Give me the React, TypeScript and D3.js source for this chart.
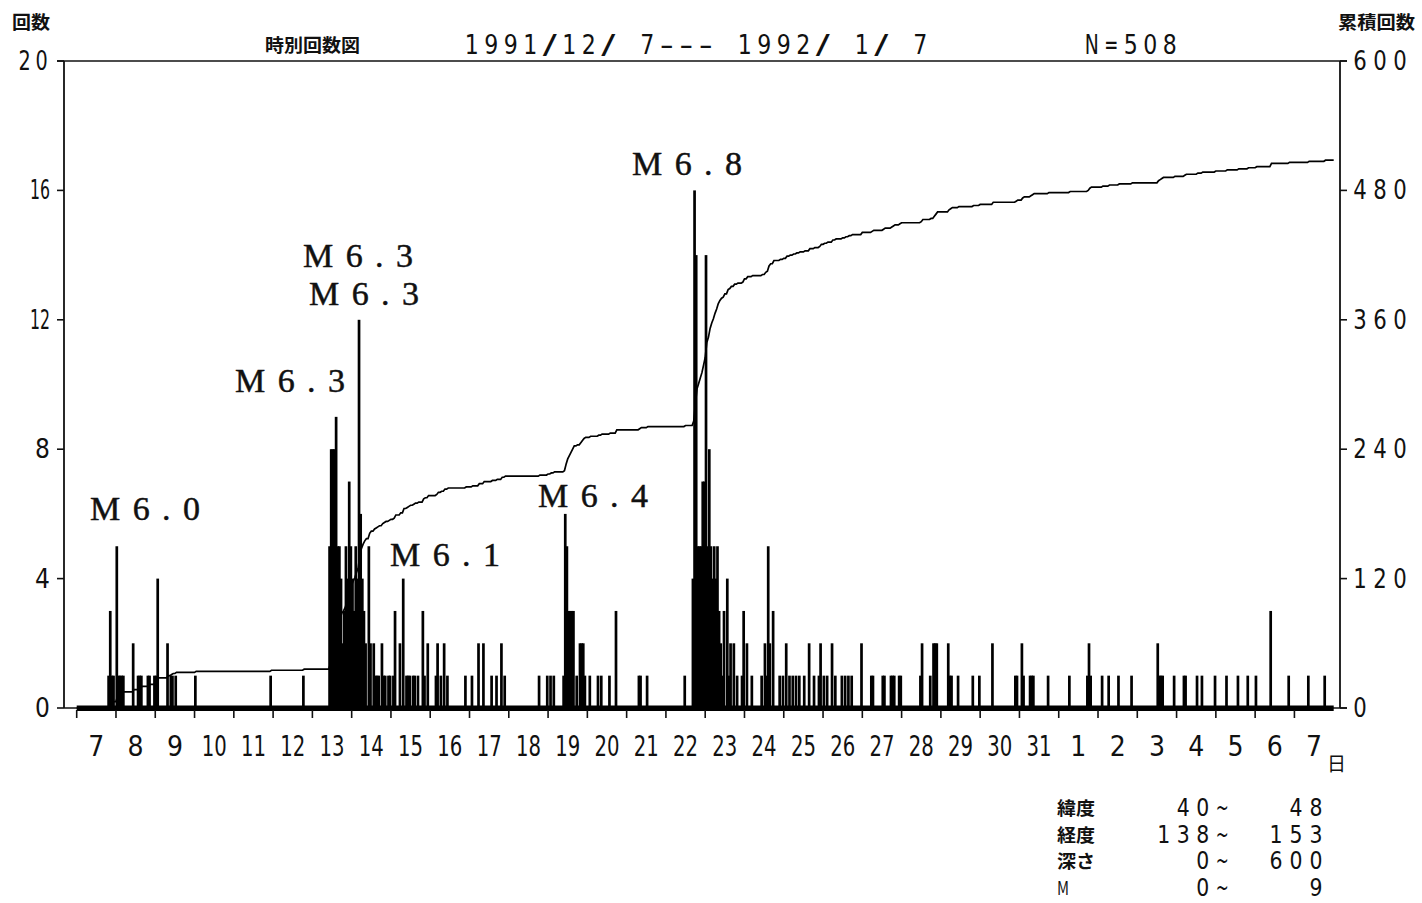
import React, { useEffect, useRef } from "react";
import * as d3 from "d3";

// x axis: one label per day, 1991/12/7 .. 1992/1/7
const dayLabels = [
  "7", "8", "9", "10", "11", "12", "13", "14", "15", "16", "17", "18", "19", "20",
  "21", "22", "23", "24", "25", "26", "27", "28", "29", "30", "31",
  "1", "2", "3", "4", "5", "6", "7",
];
const countTicks = [0, 4, 8, 12, 16, 20];
const cumulTicks = [0, 120, 240, 360, 480, 600];

// magnitude notes on the main shocks
const mainShocks = ["M6.0", "M6.3", "M6.3", "M6.3", "M6.1", "M6.4", "M6.8"];

// search window printed at the bottom right
const rangeNames = ["緯度", "経度", "深さ", "M"];
const rangeFrom = ["40~", "138~", "0~", "0~"];
const rangeTo = ["48", "153", "600", "9"];

// [date, hour, number of quakes in that hour]
const hourlyCounts: [string, number, number][] = [
  ["12/07", 19, 1], ["12/07", 20, 3], ["12/07", 21, 1], ["12/07", 22, 1],
  ["12/08", 0, 5], ["12/08", 1, 1], ["12/08", 2, 1], ["12/08", 3, 1], ["12/08", 4, 1], ["12/08", 10, 2],
  ["12/08", 13, 1], ["12/08", 14, 1], ["12/08", 15, 1], ["12/08", 19, 1], ["12/08", 20, 1], ["12/08", 23, 1],
  ["12/09", 0, 1], ["12/09", 1, 4], ["12/09", 7, 2], ["12/09", 9, 1], ["12/09", 10, 1], ["12/09", 12, 1],
  ["12/10", 0, 1], ["12/11", 22, 1], ["12/12", 18, 1],
  ["12/13", 10, 5], ["12/13", 11, 8], ["12/13", 12, 8], ["12/13", 13, 8], ["12/13", 14, 9], ["12/13", 15, 5],
  ["12/13", 16, 5], ["12/13", 17, 4], ["12/13", 18, 2], ["12/13", 19, 3], ["12/13", 20, 5], ["12/13", 21, 4],
  ["12/13", 22, 7], ["12/13", 23, 5],
  ["12/14", 0, 4], ["12/14", 1, 3], ["12/14", 2, 5], ["12/14", 3, 4], ["12/14", 4, 12], ["12/14", 5, 6],
  ["12/14", 6, 4], ["12/14", 7, 3], ["12/14", 8, 2], ["12/14", 10, 5], ["12/14", 11, 2], ["12/14", 13, 2],
  ["12/14", 14, 1], ["12/14", 15, 1], ["12/14", 16, 1], ["12/14", 18, 2], ["12/14", 19, 1], ["12/14", 20, 1],
  ["12/14", 22, 1], ["12/14", 23, 1],
  ["12/15", 1, 1], ["12/15", 2, 3], ["12/15", 5, 2], ["12/15", 7, 4], ["12/15", 9, 1], ["12/15", 10, 1],
  ["12/15", 11, 1], ["12/15", 13, 1], ["12/15", 14, 1], ["12/15", 16, 1], ["12/15", 19, 3], ["12/15", 20, 1],
  ["12/15", 22, 2],
  ["12/16", 3, 1], ["12/16", 4, 2], ["12/16", 6, 1], ["12/16", 8, 2], ["12/16", 10, 1], ["12/16", 21, 1],
  ["12/17", 1, 1], ["12/17", 5, 2], ["12/17", 8, 2], ["12/17", 13, 1], ["12/17", 16, 1], ["12/17", 19, 2],
  ["12/17", 21, 1],
  ["12/18", 18, 1], ["12/18", 23, 1],
  ["12/19", 1, 1], ["12/19", 3, 1], ["12/19", 9, 1], ["12/19", 10, 6], ["12/19", 11, 5], ["12/19", 12, 3],
  ["12/19", 13, 3], ["12/19", 14, 3], ["12/19", 15, 3], ["12/19", 17, 1], ["12/19", 19, 2], ["12/19", 20, 2],
  ["12/19", 21, 2], ["12/19", 22, 1],
  ["12/20", 1, 1], ["12/20", 6, 1], ["12/20", 8, 1], ["12/20", 13, 1], ["12/20", 17, 3],
  ["12/21", 7, 1], ["12/21", 8, 1], ["12/21", 12, 1],
  ["12/22", 11, 1], ["12/22", 16, 4], ["12/22", 17, 16], ["12/22", 18, 14], ["12/22", 19, 5], ["12/22", 20, 5],
  ["12/22", 21, 5], ["12/22", 22, 7], ["12/22", 23, 7],
  ["12/23", 0, 14], ["12/23", 1, 5], ["12/23", 2, 8], ["12/23", 3, 5], ["12/23", 4, 4], ["12/23", 5, 5],
  ["12/23", 6, 4], ["12/23", 7, 5], ["12/23", 8, 3], ["12/23", 9, 2], ["12/23", 10, 1], ["12/23", 11, 3],
  ["12/23", 13, 4], ["12/23", 14, 1], ["12/23", 15, 2], ["12/23", 17, 2], ["12/23", 19, 1], ["12/23", 22, 1],
  ["12/23", 23, 3],
  ["12/24", 1, 2], ["12/24", 4, 1], ["12/24", 10, 1], ["12/24", 12, 2], ["12/24", 13, 1], ["12/24", 14, 5],
  ["12/24", 15, 2], ["12/24", 17, 3], ["12/24", 21, 1], ["12/24", 23, 1],
  ["12/25", 1, 2], ["12/25", 3, 1], ["12/25", 5, 1], ["12/25", 7, 1], ["12/25", 9, 1], ["12/25", 12, 1],
  ["12/25", 15, 2], ["12/25", 18, 1], ["12/25", 21, 1], ["12/25", 22, 2],
  ["12/26", 0, 1], ["12/26", 2, 1], ["12/26", 5, 2], ["12/26", 7, 1], ["12/26", 11, 1], ["12/26", 13, 1],
  ["12/26", 15, 1], ["12/26", 17, 1], ["12/26", 23, 2],
  ["12/27", 5, 1], ["12/27", 6, 1], ["12/27", 12, 1], ["12/27", 13, 1], ["12/27", 17, 1], ["12/27", 18, 1],
  ["12/27", 19, 1], ["12/27", 22, 1], ["12/27", 23, 1],
  ["12/28", 11, 1], ["12/28", 12, 2], ["12/28", 17, 1], ["12/28", 19, 2], ["12/28", 20, 2], ["12/28", 21, 2],
  ["12/29", 4, 2], ["12/29", 5, 1], ["12/29", 6, 1], ["12/29", 10, 1], ["12/29", 19, 1], ["12/29", 23, 1],
  ["12/30", 7, 2], ["12/30", 21, 1], ["12/30", 22, 1],
  ["12/31", 1, 2], ["12/31", 2, 1], ["12/31", 6, 1], ["12/31", 7, 1], ["12/31", 8, 1], ["12/31", 17, 1],
  ["01/01", 6, 1], ["01/01", 17, 1], ["01/01", 18, 2], ["01/01", 19, 1],
  ["01/02", 2, 1], ["01/02", 6, 1], ["01/02", 12, 1], ["01/02", 20, 1],
  ["01/03", 12, 2], ["01/03", 13, 1], ["01/03", 14, 1], ["01/03", 15, 1], ["01/03", 22, 1],
  ["01/04", 4, 1], ["01/04", 5, 1], ["01/04", 12, 1], ["01/04", 15, 1], ["01/04", 23, 1],
  ["01/05", 6, 1], ["01/05", 13, 1], ["01/05", 19, 1],
  ["01/06", 0, 1], ["01/06", 9, 3], ["01/06", 20, 1],
  ["01/07", 8, 1], ["01/07", 18, 1],
];

const W = 1422;
const H = 903;
const NUM_FONT = "'Liberation Sans Narrow', 'DejaVu Sans Condensed', 'Liberation Sans', sans-serif";
const JP_FONT = "'Noto Sans CJK JP', 'Noto Sans CJK SC', sans-serif";
const M_FONT = "'Liberation Serif', 'DejaVu Serif', serif";

function hourIndex(date: string, hour: number) {
  const [m, d] = date.split("/").map(Number);
  const day = m === 12 ? d - 7 : 24 + d;
  return day * 24 + hour;
}

export default function App() {
  const ref = useRef<SVGSVGElement>(null);

  useEffect(() => {
    document.body.style.margin = "0";
    const svg = d3.select(ref.current);
    svg.selectAll("*").remove();
    svg.append("rect").attr("width", W).attr("height", H).attr("fill", "#fff");

    const nHours = dayLabels.length * 24;
    const x = d3.scaleLinear().domain([0, nHours]).range([76.7, 1333.7]);
    const yL = d3.scaleLinear().domain([0, 20]).range([708, 61]);
    const yR = d3.scaleLinear().domain([0, 600]).range([708, 61]);
    const axisL = 64;
    const axisR = 1340;

    const ink = "#111";
    const g = svg.append("g");

    // number text squeezed/stretched to the printed width
    const num = (px: number, py: number, s: string, size: number, width: number, anchor = "start") => {
      const t = g.append("text").attr("x", px).attr("y", py).attr("text-anchor", anchor)
        .attr("font-family", NUM_FONT).attr("font-size", size).attr("fill", ink).text(s);
      if (s.length > 1) t.attr("textLength", width).attr("lengthAdjust", "spacingAndGlyphs");
      return t;
    };
    // plotter style: narrow glyphs in fixed-width cells
    const mono = (px: number, py: number, s: string, size: number, cell: number, anchor = "start") => {
      const total = s.length * cell;
      const x0 = anchor === "end" ? px - total : px;
      s.split("").forEach((ch, i) => {
        if (ch === " ") return;
        g.append("text").attr("x", x0 + (i + 0.5) * cell).attr("y", py).attr("text-anchor", "middle")
          .attr("font-family", NUM_FONT).attr("font-size", size).attr("fill", ink)
          .attr("textLength", Math.min(cell * 0.72, size * 0.52)).attr("lengthAdjust", "spacingAndGlyphs")
          .text(ch);
      });
    };

    // frame and axes
    g.append("line").attr("x1", 57).attr("x2", axisR + 7).attr("y1", yL(20)).attr("y2", yL(20))
      .attr("stroke", ink).attr("stroke-width", 1.6);
    g.append("line").attr("x1", axisL).attr("x2", axisL).attr("y1", yL(20)).attr("y2", yL(0))
      .attr("stroke", ink).attr("stroke-width", 1.8);
    g.append("line").attr("x1", axisR).attr("x2", axisR).attr("y1", yL(20)).attr("y2", yL(0))
      .attr("stroke", ink).attr("stroke-width", 1.8);
    g.append("line").attr("x1", axisL).attr("x2", axisR + 7).attr("y1", yL(0)).attr("y2", yL(0))
      .attr("stroke", ink).attr("stroke-width", 1.6);

    // left ticks / labels
    countTicks.forEach((t) => {
      g.append("line").attr("x1", axisL - 7).attr("x2", axisL).attr("y1", yL(t)).attr("y2", yL(t))
        .attr("stroke", ink).attr("stroke-width", 1.6);
      if (t === 20) mono(50, yL(t) + 9, "20", 26, 17, "end");
      else num(50, yL(t) + 9, String(t), 26, 20, "end");
    });
    // right ticks / labels
    cumulTicks.forEach((t) => {
      g.append("line").attr("x1", axisR).attr("x2", axisR + 7).attr("y1", yR(t)).attr("y2", yR(t))
        .attr("stroke", ink).attr("stroke-width", 1.6);
      mono(1350, yR(t) + 9, String(t), 26, 20);
    });

    // thick base line and day ticks
    g.append("rect").attr("x", x(0)).attr("y", yL(0) - 2.5).attr("width", x(nHours) - x(0)).attr("height", 5.5)
      .attr("fill", "#000");
    d3.range(dayLabels.length).forEach((d) => {
      g.append("line").attr("x1", x(d * 24)).attr("x2", x(d * 24)).attr("y1", yL(0) + 2).attr("y2", yL(0) + 10)
        .attr("stroke", ink).attr("stroke-width", 1.6);
    });
    dayLabels.forEach((lab, d) => {
      num(x(d * 24 + 12), 756, lab, 28, 25, "middle");
    });
    g.append("text").attr("x", 1327).attr("y", 771).attr("font-family", JP_FONT).attr("font-size", 19)
      .attr("fill", ink).text("日");

    // hourly bars
    const counts = new Array(nHours).fill(0);
    hourlyCounts.forEach(([date, h, c]) => { counts[hourIndex(date, h)] += c; });
    const bars = counts.map((c, i) => ({ i, c })).filter((d) => d.c > 0);
    g.append("g").selectAll("rect").data(bars).join("rect")
      .attr("x", (d) => x(d.i + 0.5) - 1.35)
      .attr("width", 2.7)
      .attr("y", (d) => yL(d.c))
      .attr("height", (d) => yL(0) - yL(d.c))
      .attr("fill", "#000");

    // cumulative line
    const cum = Array.from(d3.cumsum(counts));
    const pts: [number, number][] = [[0, 0], ...cum.map((v, i) => [i + 1, v] as [number, number])];
    const line = d3.line<[number, number]>().x((d) => x(d[0])).y((d) => yR(d[1]));
    g.append("path").attr("d", line(pts)).attr("fill", "none").attr("stroke", "#000").attr("stroke-width", 1.7);

    // magnitude notes
    const notePos = [[90, 520], [235, 392], [303, 267], [309, 305], [390, 566], [538, 507], [632, 175]];
    mainShocks.forEach((m, i) => {
      g.append("text").attr("x", notePos[i][0]).attr("y", notePos[i][1])
        .attr("font-family", M_FONT).attr("font-size", 34).attr("fill", ink)
        .attr("stroke", ink).attr("stroke-width", 0.5)
        .attr("textLength", 110).attr("lengthAdjust", "spacing").text(m);
    });

    // header
    const jp = (px: number, py: number, s: string, width: number, weight = 700, size = 18) =>
      g.append("text").attr("x", px).attr("y", py).attr("font-family", JP_FONT).attr("font-weight", weight)
        .attr("font-size", size).attr("textLength", width).attr("lengthAdjust", "spacingAndGlyphs")
        .attr("fill", ink).text(s);
    jp(12, 29, "回数", 38);
    jp(1338, 29, "累積回数", 77);
    jp(265, 52, "時別回数図", 95);
    mono(462, 54, "1991/12/ 7--- 1992/ 1/ 7", 27, 19.5);
    mono(1082, 54, "N=" + d3.sum(counts), 27, 19.5);

    // search range table
    rangeNames.forEach((name, i) => {
      const yy = 815 + i * 26.7;
      jp(1057, yy, name, name === "M" ? 12 : 38, name === "M" ? 400 : 700);
      mono(1232, yy + 1, rangeFrom[i], 25, 19.5, "end");
      mono(1326, yy + 1, rangeTo[i], 25, 20, "end");
    });
  }, []);

  return <svg ref={ref} width={W} height={H} style={{ display: "block" }} />;
}
